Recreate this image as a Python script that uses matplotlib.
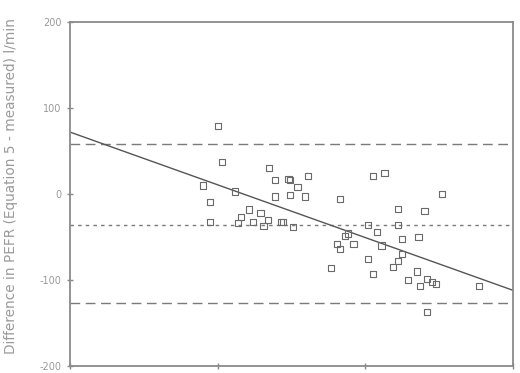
import matplotlib
matplotlib.use("Agg")
import matplotlib.pyplot as plt
import numpy as np

# data (mean x, difference y)
x_vals = [100, 103, 90, 112, 95, 95, 135, 139, 139, 121, 129, 116, 114, 124, 131, 134, 143, 148,
          149, 154, 161, 149, 159, 144, 151, 183, 205, 213, 252, 222, 240, 202, 222, 188, 186,
          208, 225, 236, 181, 192, 183, 211, 225, 222, 202, 219, 177, 205, 235, 229, 237, 242,
          245, 248, 277, 242]
y_vals = [79, 37, 10, 3, -9, -33, 30, 16, -3, -18, -22, -27, -34, -33, -37, -30, -33, 17,
          16, 8, 21, -1, -3, -33, -38, -6, 21, 24, 0, -17, -20, -36, -36, -46, -49,
          -44, -52, -50, -58, -58, -64, -60, -70, -78, -76, -85, -86, -93, -90, -100, -107, -99,
          -102, -105, -107, -137]

mean_diff = -36
upper_loa = 58
lower_loa = -127
reg_intercept = 72
reg_slope = -184 / 300

x_min, x_max = 0, 300
y_ticks = [-200, -100, 0, 100, 200]
x_ticks = [0, 100, 200, 300]

grey = "#8a8a8a"
fig = plt.figure(figsize=(5.2, 3.73), dpi=100)
ax = fig.add_axes([70/520, 1-366/373, (513-70)/520, (366-22)/373])

ax.scatter(x_vals, y_vals, marker="s", s=20, facecolors="none", edgecolors="#6a6a6a", linewidths=0.8, zorder=3)

ax.axhline(upper_loa, color="#7a7a7a", lw=1.0, dashes=(7, 4))
ax.axhline(lower_loa, color="#7a7a7a", lw=1.0, dashes=(7, 4))
ax.axhline(mean_diff, color="#7a7a7a", lw=1.0, dashes=(2.5, 3))
xs = np.array([x_min, x_max])
ax.plot(xs, reg_intercept + reg_slope * xs, color="#555555", lw=1.0)

ax.set_xlim(x_min, x_max)
ax.set_ylim(-200, 200)
ax.set_yticks(y_ticks)
ax.set_yticklabels([str(t) for t in y_ticks], fontsize=7, color="#9a9a9a")
ax.set_xticks(x_ticks)
ax.set_xticklabels([])
ax.tick_params(direction="inout", length=5, color=grey, width=1)
for s in ax.spines.values():
    s.set_color(grey)
    s.set_linewidth(1.3)

fig.text(11/520, 0.5, "Difference in PEFR (Equation 5 - measured) l/min", rotation=90,
         ha="center", va="center", fontsize=9.8, color="#9a9a9a")

fig.savefig("out.png", dpi=100)
